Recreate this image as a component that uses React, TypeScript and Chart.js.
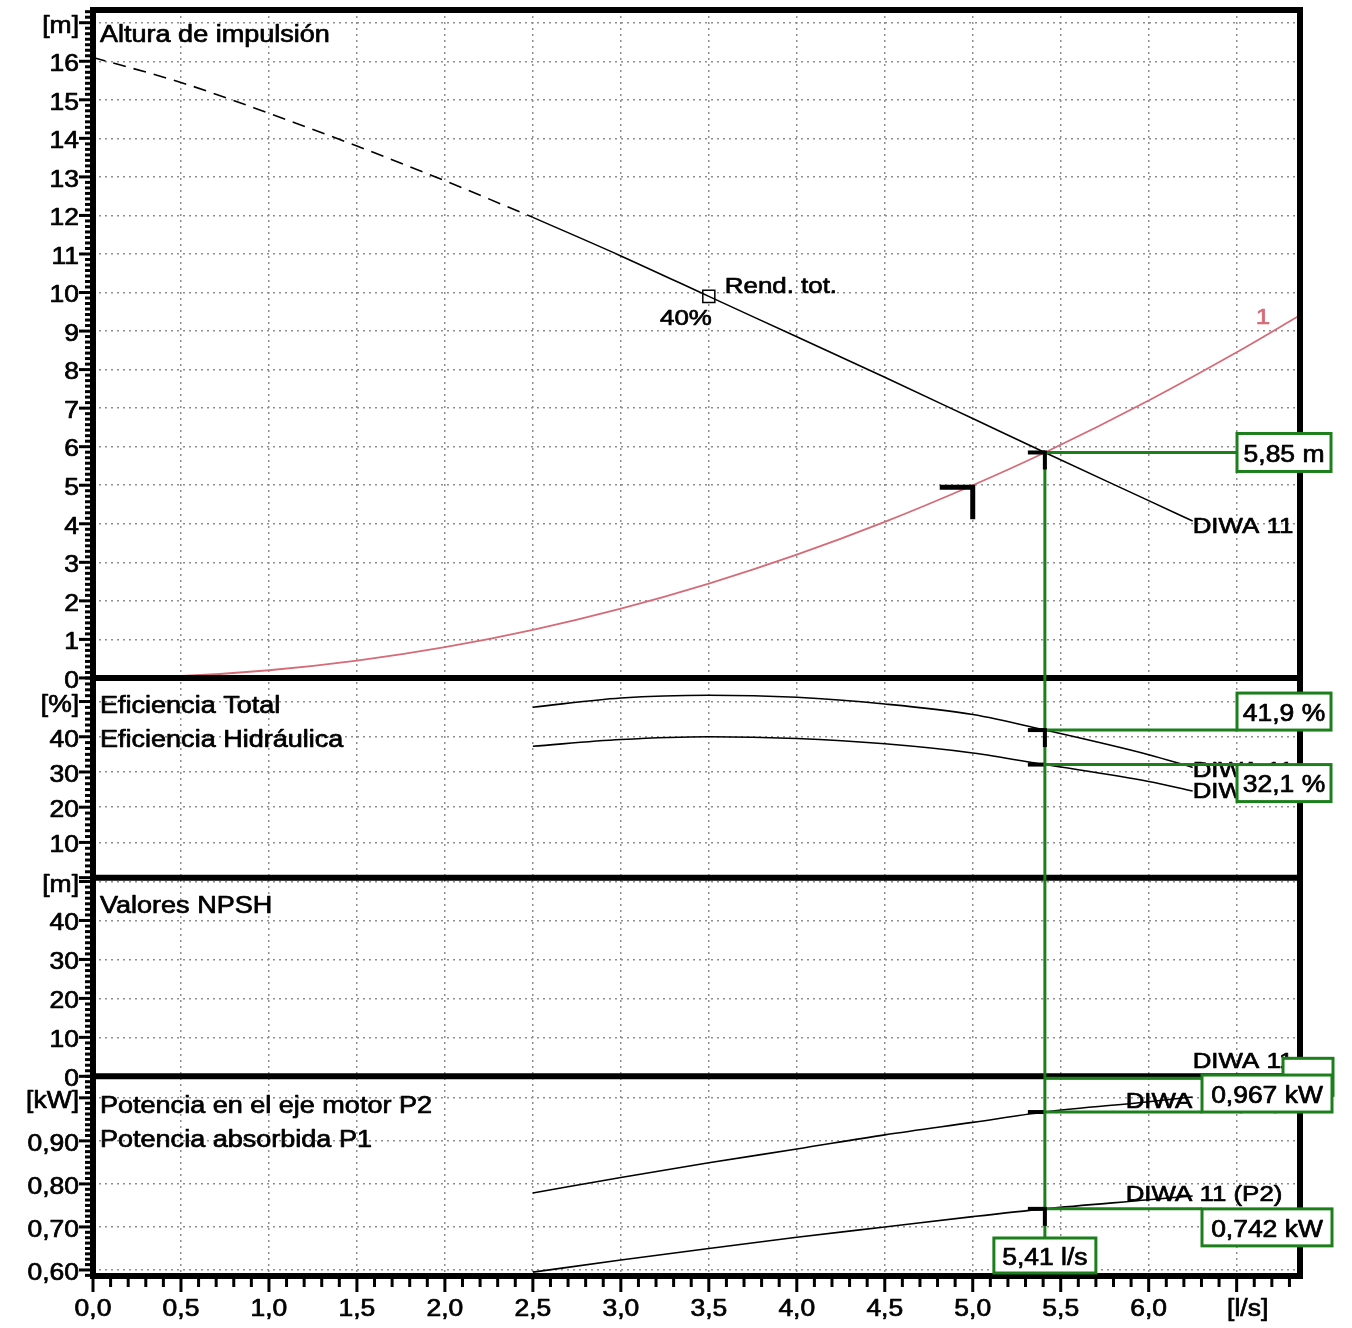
import React, { useEffect, useRef } from 'react';
import { Chart, registerables } from 'chart.js';

Chart.register(...registerables);

// ---------- data ----------
const X_MIN = 0;
const X_MAX = 6.86;
const X_TICKS = [0, 0.5, 1, 1.5, 2, 2.5, 3, 3.5, 4, 4.5, 5, 5.5, 6, 6.5];
const X_TICK_LABELS = ['0,0', '0,5', '1,0', '1,5', '2,0', '2,5', '3,0', '3,5', '4,0', '4,5', '5,0', '5,5', '6,0', '[l/s]'];

const H_TICKS = [0, 1, 2, 3, 4, 5, 6, 7, 8, 9, 10, 11, 12, 13, 14, 15, 16, 17];
const H_TICK_LABELS = ['0', '1', '2', '3', '4', '5', '6', '7', '8', '9', '10', '11', '12', '13', '14', '15', '16', '[m]'];
const E_TICKS = [0, 10, 20, 30, 40, 50];
const E_TICK_LABELS = ['', '10', '20', '30', '40', '[%]'];
const N_TICKS = [0, 10, 20, 30, 40, 50];
const N_TICK_LABELS = ['0', '10', '20', '30', '40', '[m]'];
const P_TICKS = [0.6, 0.7, 0.8, 0.9, 1.0];
const P_TICK_LABELS = ['0,60', '0,70', '0,80', '0,90', '[kW]'];

const HEAD_DASHED_Q = [0, 0.5, 1.0, 1.5, 2.0, 2.5];
const HEAD_DASHED_H = [16.1, 15.45, 14.65, 13.8, 12.9, 11.95];
const HEAD_Q = [2.5, 3.0, 3.5, 4.0, 4.5, 5.0, 5.41, 6.0, 6.25];
const HEAD_H = [11.95, 10.95, 9.9, 8.85, 7.8, 6.73, 5.85, 4.6, 4.07];

const SYS_Q = [0, 0.5, 1, 1.5, 2, 2.5, 3, 3.5, 4, 4.5, 5, 5.41, 6, 6.5, 6.86];
const SYS_H = [0, 0.05, 0.2, 0.45, 0.8, 1.25, 1.8, 2.45, 3.2, 4.05, 5.0, 5.85, 7.2, 8.45, 9.41];

const EFF_Q = [2.5, 3.0, 3.5, 4.0, 4.5, 5.0, 5.41, 6.0, 6.25];
const EFF_HYD = [48.4, 51.0, 51.8, 51.2, 49.3, 46.3, 41.9, 34.9, 31.3];
const EFF_TOT = [37.3, 39.2, 40.0, 39.5, 38.0, 35.4, 32.1, 27.3, 24.6];

const POW_Q = [2.5, 3.0, 3.5, 4.0, 4.5, 5.0, 5.41, 6.0, 6.25];
const POW_P1 = [0.779, 0.815, 0.849, 0.881, 0.914, 0.943, 0.967, 0.991, 1.002];
const POW_P2 = [0.595, 0.623, 0.65, 0.676, 0.7, 0.724, 0.742, 0.763, 0.772];

const REND_Q = 3.5;
const REND_H = 9.9;
const DUTY_Q = 5.0;
const DUTY_H = 5.0;
const OP_Q = 5.41;
const OP_H = 5.85;
const OP_EH = 41.9;
const OP_ET = 32.1;
const OP_NPSH = 0;
const OP_P1 = 0.967;
const OP_P2 = 0.742;
const NPSH_LABEL_AT = 4.1;

const LBL_Q = '5,41 l/s';
const LBL_H = '5,85 m';
const LBL_EH = '41,9 %';
const LBL_ET = '32,1 %';
const LBL_P1 = '0,967 kW';
const LBL_P2 = '0,742 kW';

// ---------- styles ----------
const FONT = '"Liberation Sans", Arial, Helvetica, sans-serif';
const SX = 1.15;
const GRID = '#8e8e8e';
const RED = '#d66b78';
const GREEN = '#1c7f1c';

const pts = (xs: number[], ys: number[]) => xs.map((x, i) => ({ x, y: ys[i] }));

function text(ctx: CanvasRenderingContext2D, s: string, x: number, cy: number, align: string, size: number, color = '#000') {
  if (!s) return;
  ctx.save();
  ctx.font = `${size}px ${FONT}`;
  ctx.fillStyle = color;
  ctx.strokeStyle = color;
  ctx.lineWidth = 0.7;
  ctx.lineJoin = 'round';
  ctx.textAlign = 'left';
  ctx.textBaseline = 'alphabetic';
  const w = ctx.measureText(s).width * SX;
  const left = align === 'left' ? x : align === 'right' ? x - w : x - w / 2;
  ctx.translate(left, cy + size * 0.36);
  ctx.scale(SX, 1);
  ctx.fillText(s, 0, 0);
  ctx.strokeText(s, 0, 0);
  ctx.restore();
}

function line(ctx: CanvasRenderingContext2D, x1: number, y1: number, x2: number, y2: number, w: number, color: string) {
  ctx.save();
  ctx.strokeStyle = color;
  ctx.lineWidth = w;
  ctx.lineCap = 'butt';
  ctx.beginPath();
  ctx.moveTo(x1, y1);
  ctx.lineTo(x2, y2);
  ctx.stroke();
  ctx.restore();
}

function box(ctx: CanvasRenderingContext2D, l: number, t: number, r: number, b: number, s: string) {
  ctx.save();
  ctx.fillStyle = '#fff';
  ctx.fillRect(l, t, r - l, b - t);
  ctx.strokeStyle = GREEN;
  ctx.lineWidth = 3;
  ctx.strokeRect(l, t, r - l, b - t);
  ctx.restore();
  text(ctx, s, (l + r) / 2, (t + b) / 2 + 1, 'center', 23);
}

const overlay = {
  id: 'overlay',
  afterDraw(chart: any) {
    const ctx: CanvasRenderingContext2D = chart.ctx;
    const a = chart.chartArea;
    const x = chart.scales.x;
    const yH = chart.scales.yH;
    const yE = chart.scales.yE;
    const yN = chart.scales.yN;
    const yP = chart.scales.yP;

    // panel titles
    text(ctx, 'Altura de impulsión', a.left + 7, 33.5, 'left', 23.5);
    text(ctx, 'Eficiencia Total', a.left + 7, yH.bottom + 26.5, 'left', 23.5);
    text(ctx, 'Eficiencia Hidráulica', a.left + 7, yH.bottom + 60.5, 'left', 23.5);
    text(ctx, 'Valores NPSH', a.left + 7, yE.bottom + 27, 'left', 23.5);
    text(ctx, 'Potencia en el eje motor P2', a.left + 7, yN.bottom + 28, 'left', 23.5);
    text(ctx, 'Potencia absorbida P1', a.left + 7, yN.bottom + 62, 'left', 23.5);

    // curve labels
    const xe = x.getPixelForValue(HEAD_Q[HEAD_Q.length - 1]);
    text(ctx, 'DIWA 11', xe, yH.getPixelForValue(HEAD_H[HEAD_H.length - 1]) + 4, 'left', 22.5);
    text(ctx, 'DIWA 11', xe, yE.getPixelForValue(EFF_HYD[EFF_HYD.length - 1]) + 2, 'left', 22.5);
    text(ctx, 'DIWA 11', xe, yE.getPixelForValue(EFF_TOT[EFF_TOT.length - 1]) - 1, 'left', 22.5);
    text(ctx, 'DIWA 11', xe, yN.getPixelForValue(NPSH_LABEL_AT), 'left', 22.5);
    text(ctx, 'DIWA 11 (P1)', xe - 67, yP.getPixelForValue(POW_P1[POW_P1.length - 1]) + 3, 'left', 22.5);
    text(ctx, 'DIWA 11 (P2)', xe - 67, yP.getPixelForValue(POW_P2[POW_P2.length - 1]) - 3, 'left', 22.5);
    text(ctx, '1', x.getPixelForValue(6.65), yH.getPixelForValue(9.4), 'center', 22.5, RED);

    // efficiency marker labels
    const mx = x.getPixelForValue(REND_Q);
    const my = yH.getPixelForValue(REND_H);
    text(ctx, 'Rend. tot.', mx + 16, my - 11, 'left', 22.5);
    text(ctx, '40%', mx + 3, my + 21, 'right', 22.5);

    // duty point bracket
    const dx = x.getPixelForValue(DUTY_Q);
    const dy = yH.getPixelForValue(DUTY_H) + 2;
    ctx.save();
    ctx.strokeStyle = '#000';
    ctx.lineWidth = 5;
    ctx.lineJoin = 'miter';
    ctx.beginPath();
    ctx.moveTo(dx - 33, dy);
    ctx.lineTo(dx, dy);
    ctx.lineTo(dx, dy + 32);
    ctx.stroke();
    ctx.restore();

    // operating point
    const ox = x.getPixelForValue(OP_Q);
    const oyH = yH.getPixelForValue(OP_H);
    const oyEH = yE.getPixelForValue(OP_EH);
    const oyET = yE.getPixelForValue(OP_ET);
    const oyN = yN.getPixelForValue(OP_NPSH) + 2;
    const oyP1 = yP.getPixelForValue(OP_P1);
    const oyP2 = yP.getPixelForValue(OP_P2);

    [oyH, oyEH, oyET, oyP1, oyP2].forEach((yy) => line(ctx, ox - 17, yy, ox, yy, 4, '#000'));

    // frames
    ctx.save();
    ctx.strokeStyle = '#000';
    ctx.lineWidth = 6;
    ctx.beginPath();
    [a.top, yH.bottom, yE.bottom, yN.bottom, a.bottom].forEach((b) => {
      ctx.moveTo(a.left - 3, b);
      ctx.lineTo(a.right + 3, b);
    });
    ctx.moveTo(a.left, a.top - 3);
    ctx.lineTo(a.left, a.bottom + 3);
    ctx.moveTo(a.right, a.top - 3);
    ctx.lineTo(a.right, a.bottom + 3);
    ctx.stroke();
    ctx.restore();

    const bxL = a.right - 63;
    const bxR = a.right + 31;
    const bpL = a.right - 98;
    const bpR = a.right + 32;
    const qBoxTop = a.bottom - 38;

    // green guide lines
    line(ctx, ox, oyH, bxL, oyH, 3, GREEN);
    line(ctx, ox, oyEH, bxL, oyEH, 3, GREEN);
    line(ctx, ox, oyET, bxL, oyET, 3, GREEN);
    line(ctx, ox, oyN, a.right - 17, oyN, 3, GREEN);
    line(ctx, ox, oyP1, bpL, oyP1, 3, GREEN);
    line(ctx, ox, oyP2, bpL, oyP2, 3, GREEN);
    line(ctx, ox, oyH, ox, qBoxTop, 3, GREEN);

    // black vertical marks on top
    [oyH, oyEH, oyP2].forEach((yy) => line(ctx, ox, yy - 2, ox, yy + 17, 4, '#000'));

    // value boxes
    box(ctx, bxL, oyH - 19, bxR, oyH + 19, LBL_H);
    box(ctx, bxL, oyEH - 37, bxR, oyEH, LBL_EH);
    box(ctx, bxL, oyET, bxR, oyET + 37, LBL_ET);
    box(ctx, a.right - 17, yN.bottom - 18, a.right + 33, yN.bottom + 19, '');
    box(ctx, bpL, oyP1 - 37, bpR, oyP1, LBL_P1);
    box(ctx, bpL, oyP2, bpR, oyP2 + 37, LBL_P2);
    box(ctx, ox - 51, qBoxTop, ox + 51, a.bottom - 3, LBL_Q);

    // left axis ticks and labels
    const axes: [any, number, number, number[], string[]][] = [
      [yH, 1, 7, H_TICKS, H_TICK_LABELS],
      [yE, 10, 6, E_TICKS, E_TICK_LABELS],
      [yN, 10, 7, N_TICKS, N_TICK_LABELS],
      [yP, 0.1, 8, P_TICKS, P_TICK_LABELS],
    ];
    ctx.save();
    ctx.fillStyle = '#000';
    axes.forEach(([s, major, per, ticks, labels]) => {
      const step = major / per;
      const k0 = Math.ceil(s.min / step - 1e-6);
      const k1 = Math.floor(s.max / step + 1e-6);
      for (let k = k0; k <= k1; k++) {
        const py = s.getPixelForValue(k * step);
        const isMajor = k % per === 0;
        const len = isMajor ? 14 : 8;
        ctx.fillRect(a.left - len, py - 1.5, len, 3);
      }
    });
    for (let k = 0; k <= Math.floor(X_MAX / 0.1 + 1e-6); k++) {
      const px = x.getPixelForValue(k * 0.1);
      const isMajor = k % 5 === 0;
      ctx.fillRect(px - 1.5, a.bottom, 3, isMajor ? 16 : 11);
    }
    ctx.restore();
    axes.forEach(([s, , , ticks, labels]) => {
      ticks.forEach((v, i) => {
        const unit = labels[i].startsWith('[');
        text(ctx, labels[i], a.left - 14, s.getPixelForValue(v) + (unit ? 2 : 1.5), 'right', 23);
      });
    });
    X_TICKS.forEach((v, i) => {
      const px = x.getPixelForValue(v) + (X_TICK_LABELS[i].startsWith('[') ? 11 : 0);
      text(ctx, X_TICK_LABELS[i], px, a.bottom + 32, 'center', 23);
    });
  },
};

function yAxis(min: number, max: number, weight: number, stackWeight: number, ticks: number[]) {
  return {
    type: 'linear',
    position: 'left',
    stack: 'panels',
    stackWeight,
    weight,
    min,
    max,
    afterBuildTicks: (s: any) => {
      s.ticks = ticks.map((v) => ({ value: v }));
    },
    afterFit: (s: any) => {
      s.width = 93;
    },
    ticks: { display: false },
    grid: { color: GRID, lineWidth: 1.5, drawTicks: false },
    border: { display: false, dash: [2, 4] },
  };
}

export default function App() {
  const ref = useRef<HTMLCanvasElement>(null);

  useEffect(() => {
    if (!ref.current) return;
    const base = { pointRadius: 0, borderWidth: 1.6, cubicInterpolationMode: 'monotone', fill: false, xAxisID: 'x' };
    const chart = new Chart(ref.current, {
      type: 'line',
      data: {
        datasets: [
          { ...base, label: 'H dashed', data: pts(HEAD_DASHED_Q, HEAD_DASHED_H), yAxisID: 'yH', borderColor: '#000', borderDash: [13, 8] },
          { ...base, label: 'H', data: pts(HEAD_Q, HEAD_H), yAxisID: 'yH', borderColor: '#000' },
          { ...base, label: 'System 1', data: pts(SYS_Q, SYS_H), yAxisID: 'yH', borderColor: RED, borderWidth: 1.8 },
          { ...base, label: 'Eta hyd', data: pts(EFF_Q, EFF_HYD), yAxisID: 'yE', borderColor: '#000' },
          { ...base, label: 'Eta tot', data: pts(EFF_Q, EFF_TOT), yAxisID: 'yE', borderColor: '#000' },
          { ...base, label: 'P1', data: pts(POW_Q, POW_P1), yAxisID: 'yP', borderColor: '#000' },
          { ...base, label: 'P2', data: pts(POW_Q, POW_P2), yAxisID: 'yP', borderColor: '#000' },
          {
            label: 'Rend. tot.',
            data: [{ x: REND_Q, y: REND_H }],
            xAxisID: 'x',
            yAxisID: 'yH',
            showLine: false,
            pointStyle: 'rect',
            pointRadius: 8.5,
            pointBackgroundColor: '#fff',
            pointBorderColor: '#000',
            pointBorderWidth: 1.5,
          },
        ] as any,
      },
      options: {
        responsive: false,
        maintainAspectRatio: false,
        devicePixelRatio: 1,
        animation: false,
        layout: { padding: { left: 0, right: 52, top: 8, bottom: 0 } },
        plugins: { legend: { display: false }, tooltip: { enabled: false } },
        scales: {
          x: {
            type: 'linear',
            position: 'bottom',
            min: X_MIN,
            max: X_MAX,
            afterBuildTicks: (s: any) => {
              s.ticks = X_TICKS.map((v) => ({ value: v }));
            },
            afterFit: (s: any) => {
              s.height = 52;
            },
            ticks: { display: false },
            grid: { color: GRID, lineWidth: 1.5, drawTicks: false },
            border: { display: false, dash: [2, 4] },
          },
          yH: yAxis(0, 17.33, 4, 669, H_TICKS),
          yE: yAxis(0, 56.7, 3, 200, E_TICKS),
          yN: yAxis(0, 51.0, 2, 199, N_TICKS),
          yP: yAxis(0.586, 1.05, 1, 200, P_TICKS),
        } as any,
      },
      plugins: [overlay],
    });
    return () => chart.destroy();
  }, []);

  return (
    <div style={{ position: 'absolute', left: 0, top: 0, width: 1352, height: 1328, background: '#fff' }}>
      <canvas ref={ref} width={1352} height={1328} style={{ display: 'block' }} />
    </div>
  );
}
